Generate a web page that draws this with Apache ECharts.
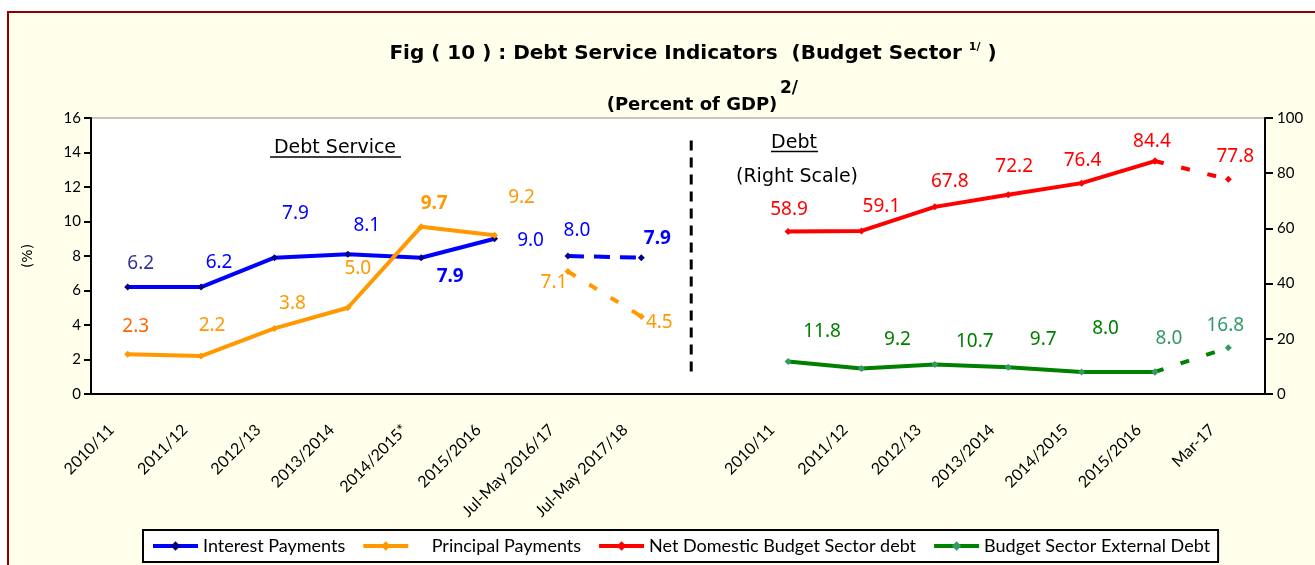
<!DOCTYPE html>
<html><head><meta charset="utf-8">
<script src="https://cdn.jsdelivr.net/npm/echarts@6/dist/echarts.min.js"></script>
<style>
html,body{margin:0;padding:0;background:#fff;overflow:hidden;width:1315px;height:565px;}
#frame{position:absolute;left:7px;top:11px;width:1400px;height:700px;border:2px solid #8B0000;background:#FFFFEC;}
#chart{position:absolute;left:0;top:0;width:1315px;height:565px;}
</style></head>
<body><div id="frame"></div><div id="chart"></div>
<script>
// ---------- data ----------
const categories = ['2010/11','2011/12','2012/13','2013/2014','2014/2015*','2015/2016','Jul-May 2016/17','Jul-May 2017/18','',
                    '2010/11','2011/12','2012/13','2013/2014','2014/2015','2015/2016','Mar-17'];
const leftTicks = [0,2,4,6,8,10,12,14,16];
const rightTicks = [0,20,40,60,80,100];

const interestActual   = [6.2, 6.2, 7.9, 8.1, 7.9, 9.0, null, null, null, null, null, null, null, null, null, null];
const interestBudget   = [null, null, null, null, null, null, 8.0, 7.9, null, null, null, null, null, null, null, null];
const principalActual  = [2.3, 2.2, 3.8, 5.0, 9.7, 9.2, null, null, null, null, null, null, null, null, null, null];
const principalBudget  = [null, null, null, null, null, null, 7.1, 4.5, null, null, null, null, null, null, null, null];
const domesticDebt     = [null, null, null, null, null, null, null, null, null, 58.9, 59.1, 67.8, 72.2, 76.4, 84.4, null];
const domesticDebtMar  = [null, null, null, null, null, null, null, null, null, null, null, null, null, null, 84.4, 77.8];
const externalDebt     = [null, null, null, null, null, null, null, null, null, 11.8, 9.2, 10.7, 9.7, 8.0, 8.0, null];
const externalDebtMar  = [null, null, null, null, null, null, null, null, null, null, null, null, null, null, 8.0, 16.8];

const dividerPos = 8.18;           // between the two panels (category units)
const dividerSpan = [1.3, 15.1];   // on the left scale

// ---------- label layout (style only) ----------
const labelLayout = {
  interest:  {0:[13,-23,'#333399'],1:[18,-24],2:[21,-44],3:[19,-29],4:[29,19,null,true],5:[36,2],6:[9,-25],7:[16,-19,null,true]},
  principal: {0:[8,-28,'#FF6600'],1:[11,-30],2:[18,-25],3:[10,-39],4:[13,-23,null,true],5:[27,-38],6:[-14,11],7:[18,6]},
  domestic:  {9:[1,-22],10:[20,-24],11:[15,-25],12:[6,-28],13:[1,-23],14:[-3,-19],15:[7,-23]},
  external:  {9:[34,-30],10:[36,-29],11:[40,-23],12:[35,-28],13:[24,-43],14:[14,-33,'#339966'],15:[-3,-22,'#339966']}
};

function buildData(values, layout, defColor, skip) {
  return values.map((v, i) => {
    if (v == null) return null;
    const l = layout[i];
    if (!l || (skip && skip.indexOf(i) >= 0)) return {value: v, label: {show: false}};
    return {value: v, label: {show: true, offset: [l[0], l[1]], color: l[2] || defColor,
            fontWeight: l[3] ? 'bold' : 'normal'}};
  });
}

const labelBase = {show: true, position: 'inside', fontFamily: 'Noto Sans', fontSize: 19,
                   formatter: p => Number(p.value).toFixed(1)};

function line(name, data, yIdx, lineColor, markColor, dash) {
  return {
    type: 'line', name: name, data: data, yAxisIndex: yIdx, xAxisIndex: 0,
    symbol: 'diamond', symbolSize: 7, showSymbol: true, connectNulls: false,
    lineStyle: {color: lineColor, width: 4, type: dash || 'solid', cap: 'butt'},
    itemStyle: {color: markColor},
    label: labelBase, emphasis: {disabled: true}, z: 3
  };
}

const chart = echarts.init(document.getElementById('chart'), null, {renderer: 'canvas'});

const option = {
  animation: false,
  backgroundColor: 'transparent',
  grid: {left: 91, right: 50, top: 118, bottom: 171, show: true, backgroundColor: '#ffffff',
         borderColor: '#8c8c8c', borderWidth: 1},
  xAxis: [
    {type: 'category', data: categories, boundaryGap: true,
     axisLine: {lineStyle: {color: '#000', width: 2}},
     axisTick: {interval: 0, length: 6, lineStyle: {color: '#000', width: 2}},
     axisLabel: {interval: 0, rotate: 45, margin: 17, padding: [0, 23, 0, 0],
                 fontFamily: 'Lato', fontSize: 16, color: '#000'}},
    {type: 'value', min: 0, max: categories.length, show: false}
  ],
  yAxis: [
    {type: 'value', min: leftTicks[0], max: leftTicks[leftTicks.length-1], interval: 2, position: 'left',
     name: '(%)', nameLocation: 'middle', nameGap: 56, nameRotate: 90,
     nameTextStyle: {fontFamily: 'DejaVu Sans', fontSize: 14, color: '#000'},
     axisLine: {show: true, lineStyle: {color: '#000', width: 2}},
     axisTick: {show: true, length: 7, lineStyle: {color: '#000', width: 2}},
     axisLabel: {fontFamily: 'Lato', fontSize: 15, color: '#000', margin: 10},
     splitLine: {show: false}},
    {type: 'value', min: rightTicks[0], max: rightTicks[rightTicks.length-1], interval: 20, position: 'right',
     axisLine: {show: true, lineStyle: {color: '#000', width: 2}},
     axisTick: {show: true, length: 8, lineStyle: {color: '#000', width: 2}},
     axisLabel: {fontFamily: 'Lato', fontSize: 15, color: '#000', margin: 12},
     splitLine: {show: false}}
  ],
  legend: {
    data: ['Interest Payments', 'Principal Payments', 'Net Domestic Budget Sector debt', 'Budget Sector External Debt'],
    left: 143, bottom: 3, itemWidth: 45, itemHeight: 12, itemGap: 16,
    padding: [7, 8, 7, 8], backgroundColor: '#ffffff', borderColor: '#000', borderWidth: 2, borderRadius: 0,
    lineStyle: {width: 4, type: 'solid'},
    textStyle: {fontFamily: 'Lato', fontSize: 18, color: '#000'},
    formatter: n => n === 'Principal Payments' ? '    Principal Payments' : n,
    selectedMode: false
  },
  graphic: [
    {type: 'text', x: 693, y: 54, style: {
      text: '{a|Fig ( 10 ) : Debt Service Indicators  (Budget Sector }{s|1/}{a| )}',
      align: 'center', verticalAlign: 'middle',
      rich: {a: {fontFamily: 'DejaVu Sans', fontWeight: 'bold', fontSize: 20, fill: '#000', lineHeight: 24},
             s: {fontFamily: 'DejaVu Sans', fontWeight: 'bold', fontSize: 11, fill: '#000', verticalAlign: 'top', lineHeight: 24}}}},
    {type: 'text', x: 692, y: 105, style: {text: '(Percent of GDP)', align: 'center', verticalAlign: 'middle',
      fontFamily: 'DejaVu Sans', fontWeight: 'bold', fontSize: 18, fill: '#000'}},
    {type: 'text', x: 789, y: 89, style: {text: '2/', align: 'center', verticalAlign: 'middle',
      fontFamily: 'DejaVu Sans', fontWeight: 'bold', fontSize: 17, fill: '#000'}},
    {type: 'text', x: 335, y: 148, style: {text: 'Debt Service', align: 'center', verticalAlign: 'middle',
      fontFamily: 'DejaVu Sans', fontSize: 19, fill: '#000'}},
    {type: 'line', shape: {x1: 270, y1: 157, x2: 401, y2: 157}, style: {stroke: '#000', lineWidth: 1.5}},
    {type: 'text', x: 794, y: 143, style: {text: 'Debt', align: 'center', verticalAlign: 'middle',
      fontFamily: 'DejaVu Sans', fontSize: 19, fill: '#000'}},
    {type: 'line', shape: {x1: 771, y1: 151.5, x2: 818, y2: 151.5}, style: {stroke: '#000', lineWidth: 1.5}},
    {type: 'text', x: 797, y: 177, style: {text: '(Right Scale)', align: 'center', verticalAlign: 'middle',
      fontFamily: 'DejaVu Sans', fontSize: 19, fill: '#000'}}
  ],
  series: [
    line('Interest Payments', buildData(interestActual, labelLayout.interest, '#0000FF'), 0, '#0000FF', '#000080'),
    line('Interest Payments', buildData(interestBudget, labelLayout.interest, '#0000FF'), 0, '#0000FF', '#000080', [16, 10]),
    line('Principal Payments', buildData(principalActual, labelLayout.principal, '#FF9900'), 0, '#FF9900', '#FF9900'),
    line('Principal Payments', buildData(principalBudget, labelLayout.principal, '#FF9900'), 0, '#FF9900', '#FF9900', [9, 16]),
    line('Net Domestic Budget Sector debt', buildData(domesticDebt, labelLayout.domestic, '#FF0000'), 1, '#FF0000', '#FF0000'),
    line('Net Domestic Budget Sector debt', buildData(domesticDebtMar, labelLayout.domestic, '#FF0000', [14]), 1, '#FF0000', '#FF0000', [9, 18]),
    line('Budget Sector External Debt', buildData(externalDebt, labelLayout.external, '#008000'), 1, '#008000', '#339966'),
    line('Budget Sector External Debt', buildData(externalDebtMar, labelLayout.external, '#008000', [14]), 1, '#008000', '#339966', [9, 18]),
    {type: 'line', name: 'divider', xAxisIndex: 1, yAxisIndex: 0, silent: true, symbol: 'none',
     data: [[dividerPos, dividerSpan[0]], [dividerPos, dividerSpan[1]]],
     lineStyle: {color: '#000', width: 3, type: [10, 7]}, z: 1}
  ]
};
chart.setOption(option);
</script>
</body></html>
